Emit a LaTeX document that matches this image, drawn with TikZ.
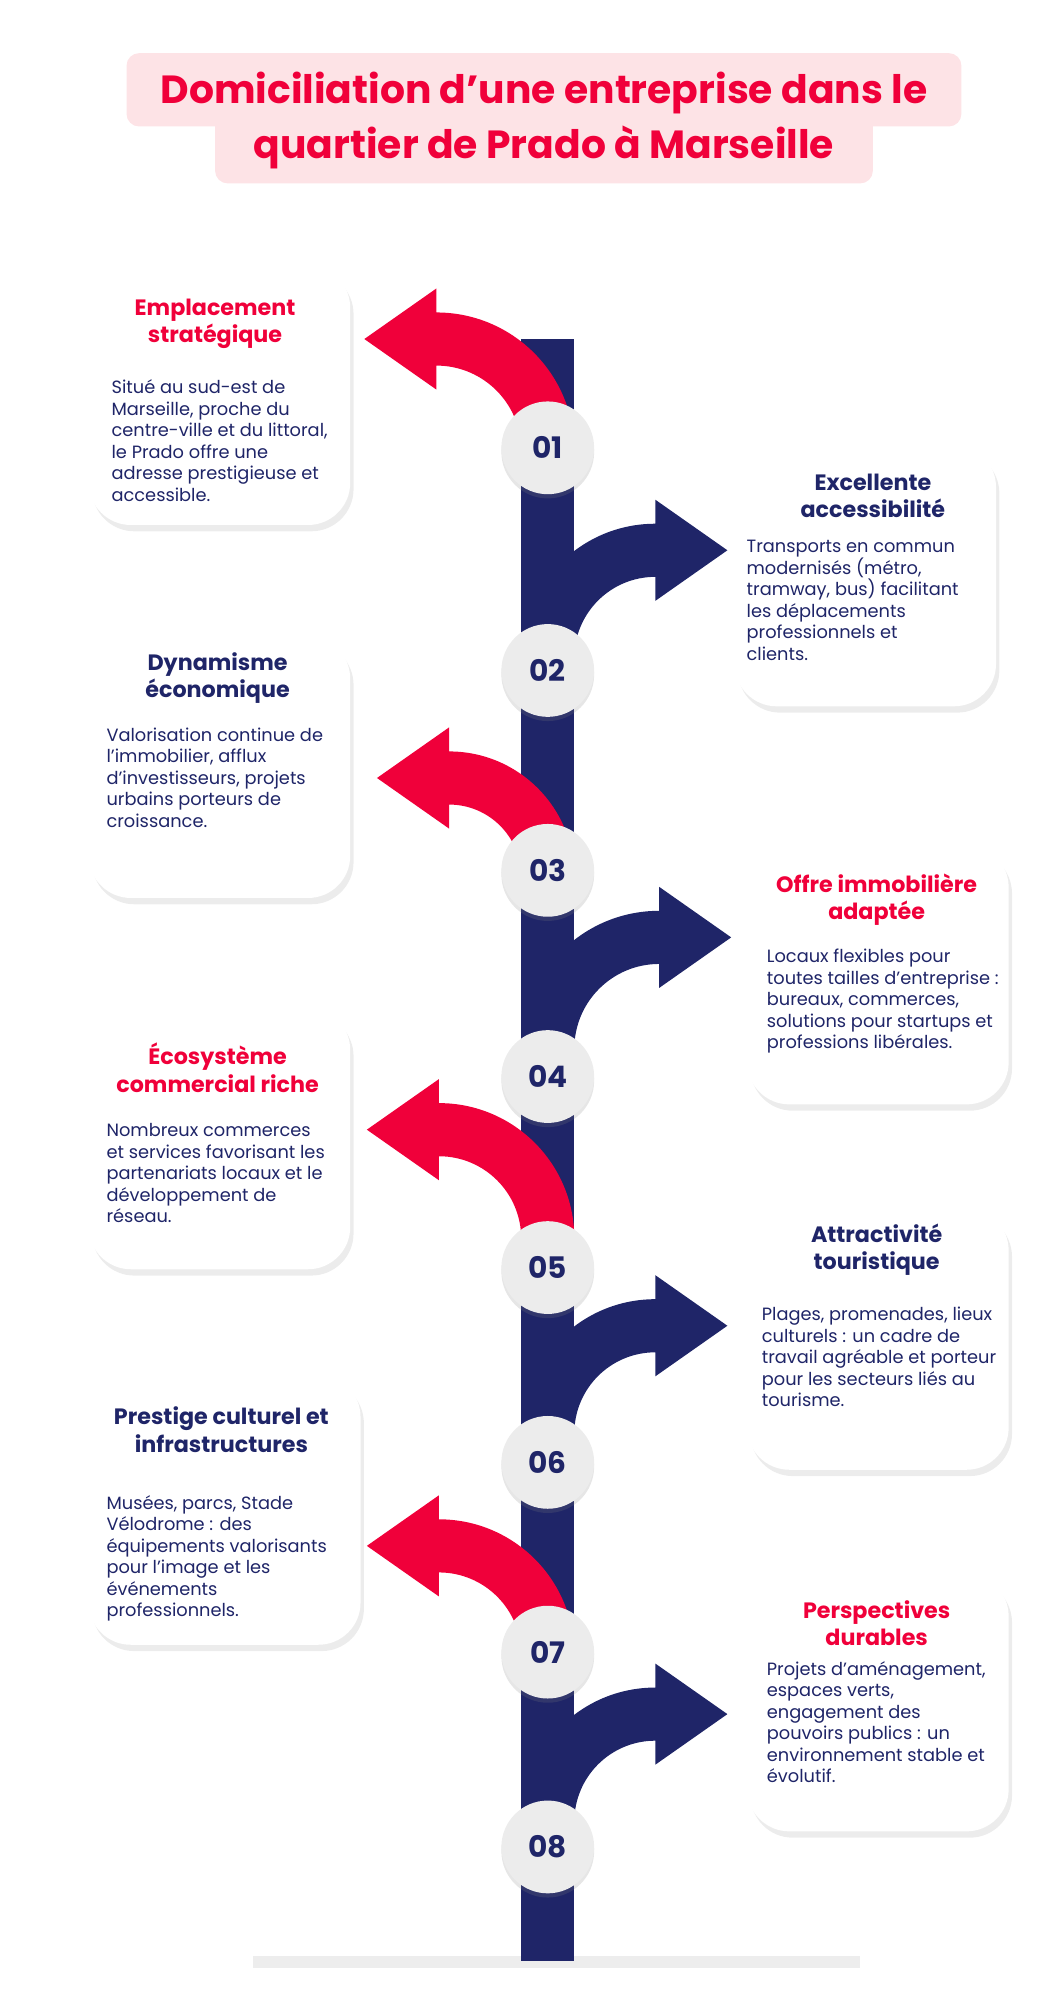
\documentclass[tikz,border=0pt]{standalone}
\usepackage{fontspec}
\setmainfont{Poppins}
\usetikzlibrary{shadows}
\definecolor{prred}{HTML}{F0003A}
\definecolor{prnavy}{HTML}{1F2568}
\definecolor{prpink}{HTML}{FDE3E6}
\definecolor{prgray}{HTML}{ECECEC}
% arrow leaving the spine to the left (red) or to the right (navy)
\newcommand{\leftarr}[3]{% head base x, y, spine end y
  \fill[prred] (#1,#2-21) arc[start angle=270,end angle=360,radius=433-#1+21] -- (454,#3) -- (412,#3)
    -- (412,#2+433-#1) arc[start angle=360,end angle=270,radius=433-#1-21]
    -- (#1,#2+40) -- (#1-57,#2) -- (#1,#2-40) -- cycle;}
\newcommand{\rightarr}[3]{%
  \fill[prnavy] (#1,#2-21) arc[start angle=270,end angle=180,radius=#1-433+21] -- (412,#3) -- (454,#3)
    -- (454,#2+#1-433) arc[start angle=180,end angle=270,radius=#1-433-21]
    -- (#1,#2+40) -- (#1+57,#2) -- (#1,#2-40) -- cycle;}
\begin{document}
\begin{tikzpicture}[x=0.3mm,y=0.3mm,yscale=-1]
\tikzset{card/.style={rectangle, rounded corners=10mm, fill=white, drop shadow={opacity=0.15,shadow xshift=0.8mm,shadow yshift=-1.5mm}},
  ttl/.style={font=\fontsize{15}{18.5}\selectfont\bfseries, align=center},
  body/.style={font=\fontsize{12}{14.5}\selectfont, text=prnavy, align=left, anchor=north west, inner sep=0pt},
  stepnum/.style={circle, fill=prgray, minimum size=22mm, text=prnavy, font=\fontsize{20}{20}\selectfont\bfseries, drop shadow={opacity=0.2,shadow xshift=0mm,shadow yshift=-1mm}}}
\useasboundingbox (0,0) rectangle (830,1581);
% title
\fill[prpink, rounded corners=3mm] (100,42) rectangle (760,100);
\fill[prpink, rounded corners=3mm] (170,90) rectangle (690,145);
\node (title) [text=prred, font=\fontsize{26.5}{37}\selectfont\bfseries, align=center] at (430,95)
  {Domiciliation d\symbol{39}une entreprise dans le\\quartier de Prado à Marseille};
% spine
\fill[black!7] (200,1546) rectangle (680,1556);
\fill[prnavy] (412,268) rectangle (454,1550);
\leftarr{345}{268}{360}
\rightarr{518}{435}{530}
\leftarr{355}{615}{688}
\rightarr{521}{741}{851}
\leftarr{347}{893}{1002}
\rightarr{518}{1048}{1156}
\leftarr{347}{1222}{1306}
\rightarr{518}{1355}{1460}
\foreach \n/\y in {01/354,02/530,03/688,04/851,05/1002,06/1156,07/1306,08/1460}
  \node (s\n) [stepnum] at (433,\y) {\n};
% cards
\node (c1) [card, minimum width=62mm, minimum height=61.5mm] at (173.5,312.5) {};
\node (c2) [card, minimum width=62mm, minimum height=62mm] at (684,455) {};
\node (c3) [card, minimum width=62mm, minimum height=62mm] at (173.5,606.5) {};
\node (c4) [card, minimum width=62mm, minimum height=61.5mm] at (694,770.5) {};
\node (c5) [card, minimum width=62mm, minimum height=62mm] at (173.5,900) {};
\node (c6) [card, minimum width=62mm, minimum height=62mm] at (694,1058.5) {};
\node (c7) [card, minimum width=64.5mm, minimum height=64mm] at (177.5,1193.5) {};
\node (c8) [card, minimum width=62mm, minimum height=61mm] at (694,1346) {};
\node (t1) [ttl, text=prred] at (170,256) {Emplacement\\stratégique};
\node (t2) [ttl, text=prnavy] at (690,392) {Excellente\\accessibilité};
\node (t3) [ttl, text=prnavy] at (172,536) {Dynamisme\\économique};
\node (t4) [ttl, text=prred] at (693,711) {Offre immobilière\\adaptée};
\node (t5) [ttl, text=prred] at (172,844) {Écosystème\\commercial riche};
\node (t6) [ttl, text=prnavy] at (693,988) {Attractivité\\touristique};
\node (t7) [ttl, text=prnavy] at (175,1130) {Prestige culturel et\\infrastructures};
\node (t8) [ttl, text=prred] at (693,1283) {Perspectives\\durables};
\node (b1) [body] at (88,300) {Situé au sud-est de\\Marseille, proche du\\centre-ville et du littoral,\\le Prado offre une\\adresse prestigieuse et\\accessible.};
\node (b2) [body] at (590,427) {Transports en commun\\modernisés (métro,\\tramway, bus) facilitant\\les déplacements\\professionnels et\\clients.};
\node (b3) [body] at (84,575) {Valorisation continue de\\l’immobilier, afflux\\d’investisseurs, projets\\urbains porteurs de\\croissance.};
\node (b4) [body] at (606,750) {Locaux flexibles pour\\toutes tailles d’entreprise :\\bureaux, commerces,\\solutions pour startups et\\professions libérales.};
\node (b5) [body] at (84,888) {Nombreux commerces\\et services favorisant les\\partenariats locaux et le\\développement de\\réseau.};
\node (b6) [body] at (602,1033) {Plages, promenades, lieux\\culturels : un cadre de\\travail agréable et porteur\\pour les secteurs liés au\\tourisme.};
\node (b7) [body] at (84,1182) {Musées, parcs, Stade\\Vélodrome : des\\équipements valorisants\\pour l’image et les\\événements\\professionnels.};
\node (b8) [body] at (606,1313) {Projets d’aménagement,\\espaces verts,\\engagement des\\pouvoirs publics : un\\environnement stable et\\évolutif.};
\end{tikzpicture}
\end{document}
